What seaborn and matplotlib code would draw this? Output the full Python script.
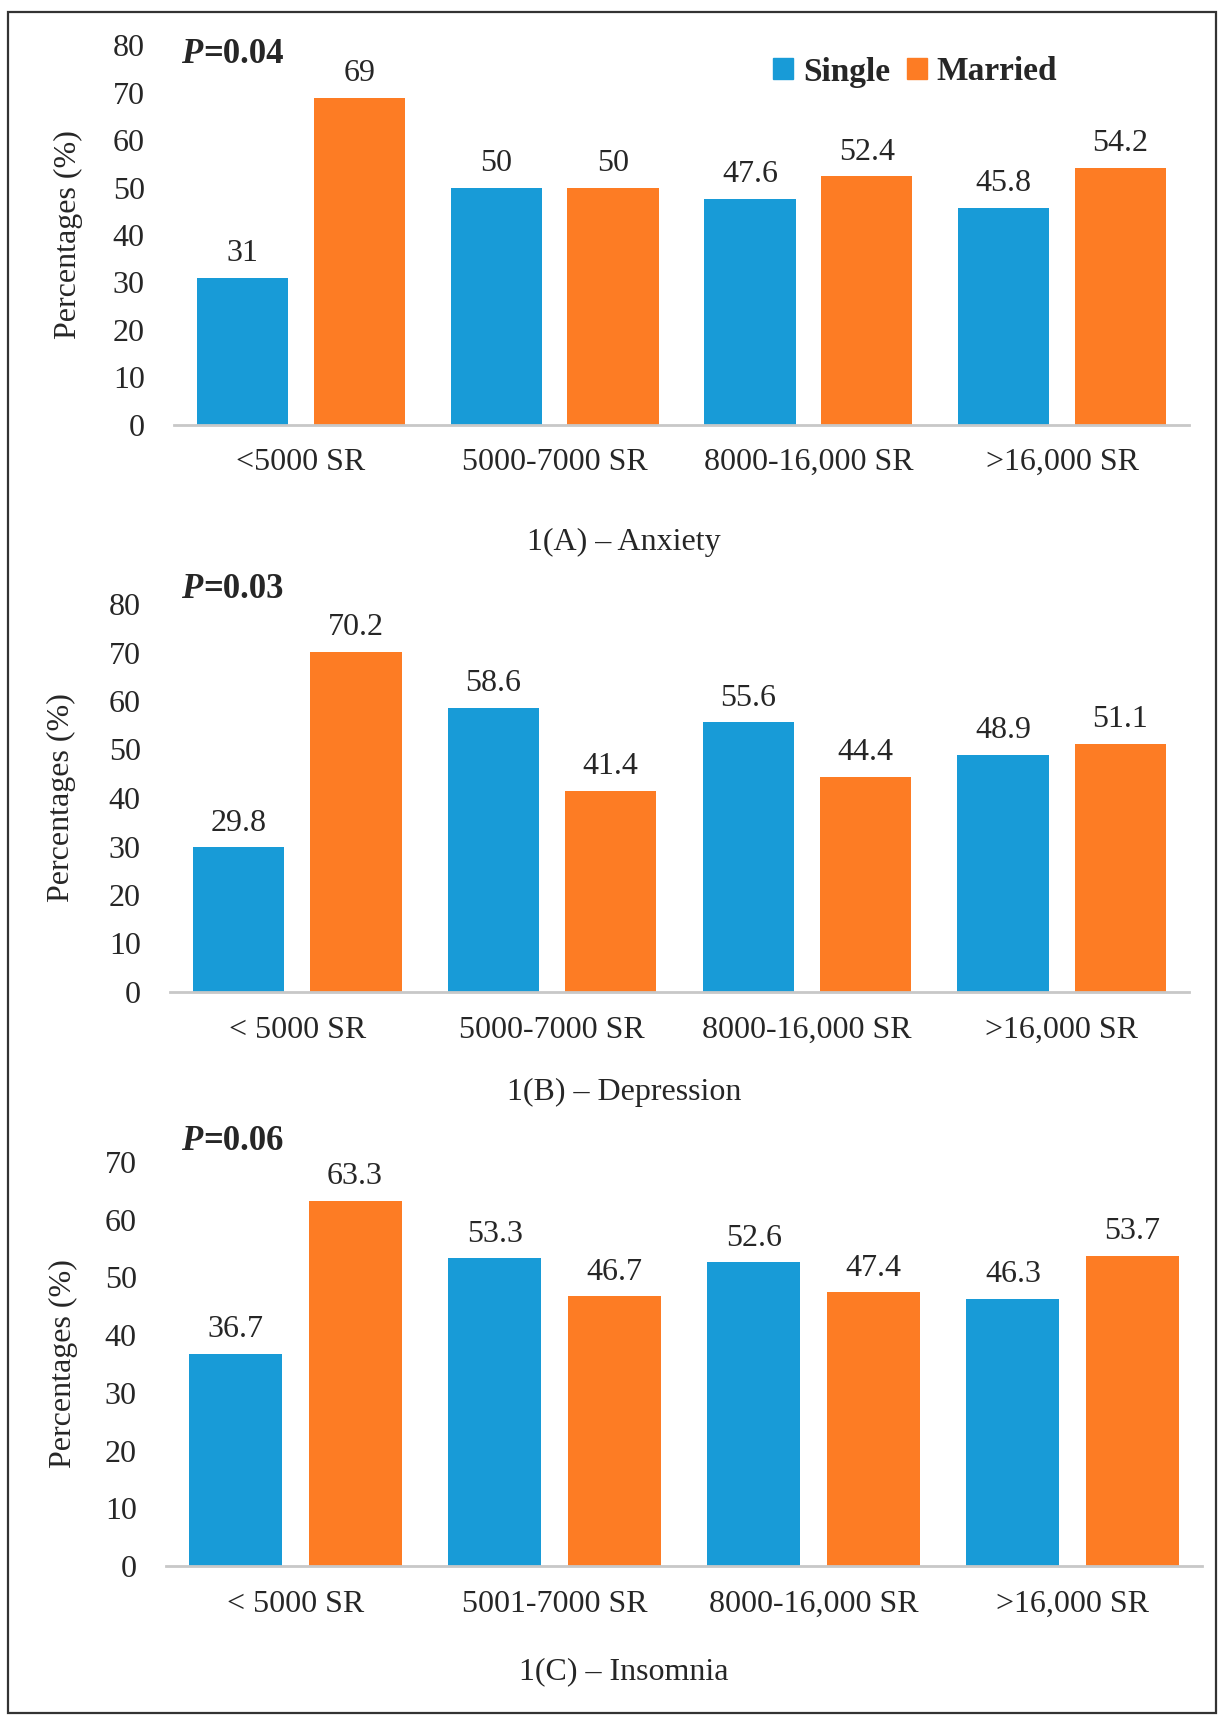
import matplotlib
matplotlib.use("Agg")
import matplotlib.pyplot as plt
from matplotlib.patches import Rectangle
import seaborn as sns
import pandas as pd

# values
groups = ["Single", "Married"]

labels_a = ["<5000 SR", "5000-7000 SR", "8000-16,000 SR", ">16,000 SR"]
single_a = [31, 50, 47.6, 45.8]
married_a = [69, 50, 52.4, 54.2]

labels_b = ["< 5000 SR", "5000-7000 SR", "8000-16,000 SR", ">16,000 SR"]
single_b = [29.8, 58.6, 55.6, 48.9]
married_b = [70.2, 41.4, 44.4, 51.1]

labels_c = ["< 5000 SR", "5001-7000 SR", "8000-16,000 SR", ">16,000 SR"]
single_c = [36.7, 53.3, 52.6, 46.3]
married_c = [63.3, 46.7, 47.4, 53.7]

titles = ["1(A) \u2013 Anxiety", "1(B) \u2013 Depression", "1(C) \u2013 Insomnia"]
pvalues = ["=0.04", "=0.03", "=0.06"]

BLUE = "#189bd7"
ORANGE = "#fd7c24"


def long_form(cats, single, married):
    rows = []
    for c, s, m in zip(cats, single, married):
        rows.append({"income": c, "status": "Single", "pct": s})
        rows.append({"income": c, "status": "Married", "pct": m})
    return pd.DataFrame(rows)


sns.set_style("white")
plt.rcParams["font.family"] = ["Liberation Serif", "DejaVu Serif"]

W, H = 1225, 1723
fig = plt.figure(figsize=(W / 100, H / 100), dpi=100)

# outer frame
fig.patches.append(Rectangle((8 / W, 10 / H), 1208 / W, 1701 / H, transform=fig.transFigure,
                             fill=False, edgecolor="#333333", linewidth=1.6))

# pixel geometry: left, right, y of zero, y of top, ymax, p baseline, caption y, ylabel x
panels = [
    (labels_a, single_a, married_a, 174, 1189, 424.5, 45.5, 80, 63, 542, 65),
    (labels_b, single_b, married_b, 170, 1189, 992, 604, 80, 598, 1092, 58),
    (labels_c, single_c, married_c, 166, 1202, 1566, 1162, 70, 1150, 1672, 60),
]

for i, (cats, single, married, x0, x1, yz, yt, ymax, pbase, ttl_y, ylab_x) in enumerate(panels):
    ax = fig.add_axes([x0 / W, (H - yz) / H, (x1 - x0) / W, (yz - yt) / H])
    df = long_form(cats, single, married)
    sns.barplot(data=df, x="income", y="pct", hue="status", hue_order=groups,
                palette=[BLUE, ORANGE], saturation=1, width=0.92, gap=0.22, ax=ax,
                edgecolor="none", linewidth=0, legend=False)
    for cont in ax.containers:
        ax.bar_label(cont, fmt="%g", padding=7, fontsize=23)

    ax.set_ylim(0, ymax)
    ax.set_xlim(-0.5, 3.5)
    ax.set_yticks(range(0, ymax + 1, 10))
    ax.tick_params(axis="y", length=0, pad=21, labelsize=23)
    ax.tick_params(axis="x", length=0, pad=17, labelsize=23)
    ax.set_xlabel("")
    ax.set_ylabel("Percentages (%)", fontsize=23)
    ax.yaxis.set_label_coords(-(x0 - ylab_x - 18) / (x1 - x0), 0.5)
    for s in ["top", "right", "left"]:
        ax.spines[s].set_visible(False)
    ax.spines["bottom"].set_color("#c8c8c8")
    ax.spines["bottom"].set_linewidth(2)

    # p-value
    fig.text(181 / W, 1 - pbase / H, "P", fontsize=25, fontweight="bold",
             fontstyle="italic", va="baseline", ha="left")
    fig.text(203 / W, 1 - pbase / H, pvalues[i], fontsize=25, fontweight="bold",
             va="baseline", ha="left")

    # panel caption
    fig.text(624 / W, 1 - ttl_y / H, titles[i], fontsize=23, ha="center", va="center")

    if i == 0:
        handles = [Rectangle((0, 0), 1, 1, color=BLUE), Rectangle((0, 0), 1, 1, color=ORANGE)]
        ax.legend(handles, groups, loc="center", bbox_to_anchor=(915 / W, 1 - 72 / H),
                  bbox_transform=fig.transFigure, ncol=2, frameon=False,
                  handlelength=0.6, handleheight=0.6, handletextpad=0.3,
                  columnspacing=0.5, prop={"size": 24, "weight": "bold"})

fig.savefig("out.png", dpi=100)
